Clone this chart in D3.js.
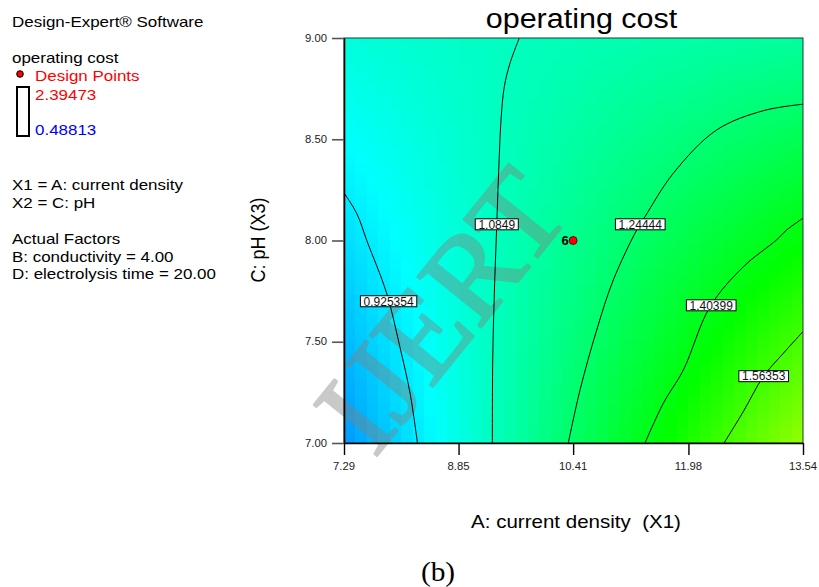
<!DOCTYPE html>
<html>
<head>
<meta charset="utf-8">
<script src="https://cdn.jsdelivr.net/npm/d3@7/dist/d3.min.js"></script>
<style>
  body { margin: 0; background: #fff; }
  text { font-family: "Liberation Sans", Arial, sans-serif; }
</style>
</head>
<body>
<svg id="chart" width="819" height="587"></svg>
<script>
// ---- data ----
const xTicks = [7.29, 8.85, 10.41, 11.98, 13.54];
const yTicks = [7.00, 7.50, 8.00, 8.50, 9.00];
const xDomain = [7.29, 13.54];
const yDomain = [7.00, 9.00];
const responseRange = [0.48813, 2.39473];

// fitted quadratic in coded units: b0, bA, bC, bAC, bA2, bC2
const modelCoef = [1.1751, 0.2673, -0.0775, -0.21, -0.009, 0.0015];
const codingA = [10.415, 3.125];   // centre, half-range
const codingC = [8.00, 1.00];

const contourLevels = [0.925354, 1.0849, 1.24444, 1.40399, 1.56353];
// contour traces as [current density, pH]
const contour0925 = [[7.29, 8.235], [7.463, 8.134], [7.60, 8.00], [7.87, 7.74], [8.05, 7.476], [8.19, 7.245], [8.29, 7.00]];
const contour1085 = [[9.677, 9.00], [9.55, 8.875], [9.473, 8.76], [9.428, 8.595], [9.397, 8.348], [9.369, 8.068], [9.337, 7.739], [9.315, 7.41], [9.31, 7.00]];
const contour1244 = [[10.344, 7.00], [10.504, 7.262], [10.731, 7.558], [10.957, 7.805], [11.276, 8.052], [11.389, 8.118], [11.774, 8.332], [12.365, 8.546], [13.00, 8.641], [13.54, 8.673]];
const contour1404 = [[11.389, 7.00], [11.638, 7.196], [11.91, 7.36], [12.274, 7.673], [12.727, 7.87], [13.18, 8.003], [13.318, 8.052], [13.54, 8.11]];
const contour1564 = [[12.465, 7.00], [12.727, 7.155], [13.00, 7.328], [13.272, 7.443], [13.54, 7.55]];
const contourTraces = [contour0925, contour1085, contour1244, contour1404, contour1564];

const designPoints = [[10.41, 8.00]];
const designCounts = ["6"];

const titleText = "operating cost";
const xLabel = "A: current density  (X1)";
const yLabel = "C: pH (X3)";
const infoLines = ["X1 = A: current density", "X2 = C: pH"];
const factorLines = ["Actual Factors", "B: conductivity = 4.00", "D: electrolysis time = 20.00"];

// ---- layout ----
const svg = d3.select("#chart");
const plot = { left: 344, right: 803, top: 38, bottom: 443 };
const SX = 1.13; // horizontal text stretch

const x = d3.scaleLinear().domain(xDomain).range([plot.left, plot.right]);
const y = d3.scaleLinear().domain(yDomain).range([plot.bottom, plot.top]);

const span = responseRange[1] - responseRange[0];
const color = d3.scaleLinear()
  .domain([0, 0.25, 0.5, 0.75, 1].map(t => responseRange[0] + t * span))
  .range(["#0000ff", "#00ffff", "#00ff00", "#ffff00", "#ff0000"]);

function response(A, pH) {
  const a = (A - codingA[0]) / codingA[1];
  const c = (pH - codingC[0]) / codingC[1];
  const [b0, b1, b2, b12, b11, b22] = modelCoef;
  return b0 + b1 * a + b2 * c + b12 * a * c + b11 * a * a + b22 * c * c;
}

function addText(parent, px, py, str, o = {}) {
  const g = parent.append("g")
    .attr("transform", `translate(${px},${py}) scale(${o.sx ?? SX},1)` + (o.rotate ? ` rotate(${o.rotate})` : ""));
  const t = g.append("text")
    .attr("x", 0).attr("y", 0)
    .attr("font-size", o.size ?? 15)
    .attr("fill", o.fill ?? "#000")
    .attr("text-anchor", o.anchor ?? "start")
    .style("white-space", "pre")
    .text(str);
  if (o.family) t.style("font-family", o.family);
  if (o.weight) t.attr("font-weight", o.weight);
  return t;
}

// ---- filled surface ----
svg.append("clipPath").attr("id", "plotClip")
  .append("rect").attr("x", plot.left).attr("y", plot.top)
  .attr("width", plot.right - plot.left).attr("height", plot.bottom - plot.top);

const nCols = 40, nRows = 81;
const cells = [];
for (let i = 0; i < nCols; i++) {
  for (let j = 0; j < nRows; j++) {
    const A0 = xDomain[0] + (xDomain[1] - xDomain[0]) * i / nCols;
    const A1 = xDomain[0] + (xDomain[1] - xDomain[0]) * (i + 1) / nCols;
    const P0 = yDomain[0] + (yDomain[1] - yDomain[0]) * j / nRows;
    const P1 = yDomain[0] + (yDomain[1] - yDomain[0]) * (j + 1) / nRows;
    cells.push({ A0, A1, P0, P1, v: response((A0 + A1) / 2, (P0 + P1) / 2) });
  }
}
const surf = svg.append("g").attr("clip-path", "url(#plotClip)");
surf.selectAll("rect").data(cells).join("rect")
  .attr("x", d => x(d.A0))
  .attr("y", d => y(d.P1))
  .attr("width", d => x(d.A1) - x(d.A0) + 0.6)
  .attr("height", d => y(d.P0) - y(d.P1) + 0.6)
  .attr("fill", d => color(d.v))
  .attr("shape-rendering", "crispEdges");

// ---- watermark ----
svg.append("g").attr("opacity", 0.42)
  .append("text")
  .attr("transform", "translate(440,309) rotate(-51)")
  .attr("text-anchor", "middle")
  .attr("dy", "0.35em")
  .style("font-family", "'Liberation Serif', 'Times New Roman', serif")
  .attr("font-size", 124)
  .attr("fill", "#808080")
  .attr("stroke", "#808080")
  .attr("stroke-width", 2.4)
  .attr("stroke-linejoin", "round")
  .text("IJERT");

// ---- contour lines ----
const line = d3.line().x(d => x(d[0])).y(d => y(d[1])).curve(d3.curveCatmullRom.alpha(0.5));
const lines = svg.append("g").attr("clip-path", "url(#plotClip)");
lines.selectAll("path").data(contourTraces).join("path")
  .attr("d", line)
  .attr("fill", "none")
  .attr("stroke", "#000")
  .attr("stroke-width", 1);

// ---- contour labels ----
const labelPH = [7.70, 8.08, 8.08, 7.68, 7.33];
function aAtPH(trace, p) {
  for (let k = 0; k < trace.length - 1; k++) {
    const [a0, p0] = trace[k], [a1, p1] = trace[k + 1];
    if ((p - p0) * (p - p1) <= 0 && p0 !== p1) return a0 + (a1 - a0) * (p - p0) / (p1 - p0);
  }
  return trace[0][0];
}
const labels = svg.append("g");
contourLevels.forEach((lvl, i) => {
  const cx = x(aAtPH(contourTraces[i], labelPH[i]));
  const cy = y(labelPH[i]);
  const g = labels.append("g");
  const t = g.append("text")
    .attr("x", cx).attr("y", cy).attr("dy", "0.36em")
    .attr("text-anchor", "middle")
    .attr("font-size", 12)
    .attr("fill", "#111")
    .text(String(lvl));
  const bb = t.node().getBBox();
  g.insert("rect", "text")
    .attr("x", cx - bb.width / 2 - 3).attr("y", cy - 5.5)
    .attr("width", bb.width + 6).attr("height", 11)
    .attr("fill", "#fff").attr("stroke", "#000").attr("stroke-width", 1);
});

// ---- design points ----
const dp = svg.append("g");
designPoints.forEach((d, i) => {
  dp.append("circle").attr("cx", x(d[0])).attr("cy", y(d[1])).attr("r", 4)
    .attr("fill", "#ff0000").attr("stroke", "#400").attr("stroke-width", 0.8);
  addText(dp, x(d[0]) - 4.5, y(d[1]) + 4.5, designCounts[i], { size: 13, weight: "bold", anchor: "end", sx: 1 });
});

// ---- frame & axes ----
svg.append("rect")
  .attr("x", plot.left).attr("y", plot.top)
  .attr("width", plot.right - plot.left).attr("height", plot.bottom - plot.top)
  .attr("fill", "none").attr("stroke", "#1f3a34").attr("stroke-width", 1);

const xAxis = d3.axisBottom(x).tickValues(xTicks).tickFormat(d3.format(".2f")).tickSize(12).tickSizeOuter(0);
const gx = svg.append("g").attr("transform", `translate(0,${plot.bottom})`).call(xAxis);
gx.select(".domain").attr("stroke", "#000").attr("stroke-width", 1.6);
gx.selectAll(".tick line").attr("stroke", "#000").attr("stroke-width", 1.4);
gx.selectAll(".tick text").remove();
xTicks.forEach(v => addText(svg, x(v), 470, d3.format(".2f")(v), { size: 10, anchor: "middle", fill: "#222" }));

const yAxis = d3.axisLeft(y).tickValues(yTicks).tickFormat(d3.format(".2f")).tickSize(12).tickSizeOuter(0);
const gy = svg.append("g").attr("transform", `translate(${plot.left},0)`).call(yAxis);
gy.select(".domain").attr("stroke", "#000").attr("stroke-width", 1.6);
gy.selectAll(".tick line").attr("stroke", "#555").attr("stroke-width", 1.6);
gy.selectAll(".tick text").remove();
yTicks.forEach(v => addText(svg, 327, y(v) + 3.6, d3.format(".2f")(v), { size: 10, anchor: "end", fill: "#222" }));

// ---- titles ----
addText(svg, (plot.left + plot.right) / 2 + 8, 28, titleText, { size: 27, anchor: "middle" });
addText(svg, 576, 528, xLabel, { size: 18, anchor: "middle", sx: 1.14 });
addText(svg, 265, 240, yLabel, { size: 18, anchor: "middle", rotate: -90 });

// ---- side legend ----
const leg = svg.append("g");
addText(leg, 12, 27, "Design-Expert\u00AE Software");
addText(leg, 12, 63, titleText);
leg.append("circle").attr("cx", 20).attr("cy", 74).attr("r", 3.3)
  .attr("fill", "#ff0000").attr("stroke", "#000").attr("stroke-width", 1);
addText(leg, 35, 81, "Design Points", { fill: "#ff0000" });
leg.append("rect").attr("x", 17).attr("y", 87).attr("width", 12).attr("height", 49)
  .attr("fill", "#fff").attr("stroke", "#000").attr("stroke-width", 2);
addText(leg, 35, 100, String(responseRange[1]), { fill: "#ff0000" });
addText(leg, 35, 135, String(responseRange[0]), { fill: "#0000ff" });
infoLines.forEach((s, i) => addText(leg, 12, 190 + i * 17.5, s));
factorLines.forEach((s, i) => addText(leg, 12, 244 + i * 17.7, s));

// ---- panel tag ----
addText(svg, 438, 581, "(b)", { size: 28, anchor: "middle", family: "'Liberation Serif', 'Times New Roman', serif", sx: 1.05 });
</script>
</body>
</html>
